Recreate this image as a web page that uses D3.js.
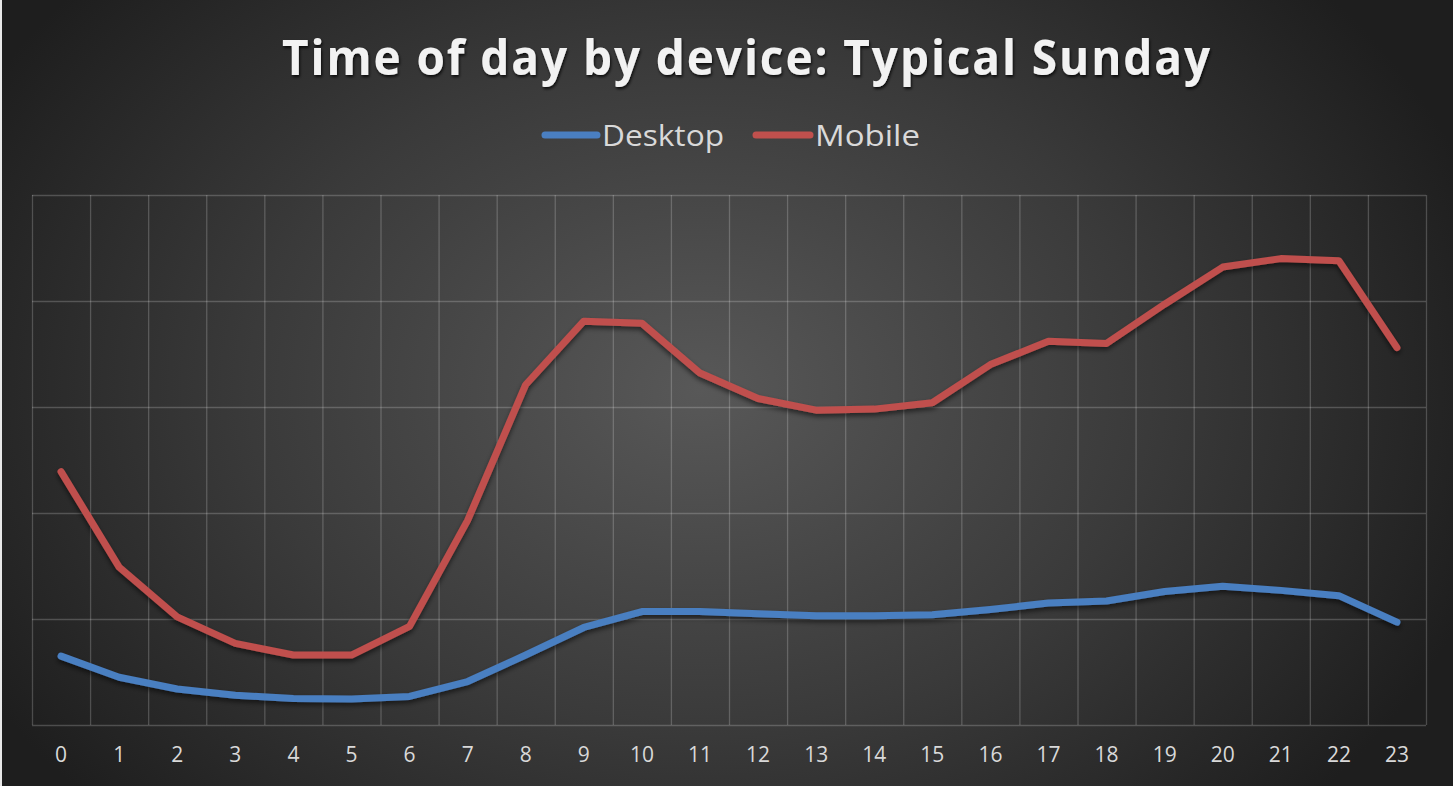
<!DOCTYPE html>
<html>
<head>
<meta charset="utf-8">
<script src="https://cdn.jsdelivr.net/npm/d3@7"></script>
<style>
html,body{margin:0;padding:0;background:#262626;overflow:hidden;}
svg{display:block;}
</style>
</head>
<body>
<svg id="chart" width="1453" height="786"></svg>
<script>
const hours = ["0","1","2","3","4","5","6","7","8","9","10","11","12","13","14","15","16","17","18","19","20","21","22","23"];
const desktop = [6.5,4.5,3.4,2.8,2.5,2.45,2.7,4.1,6.6,9.2,10.7,10.7,10.5,10.3,10.3,10.4,10.9,11.5,11.7,12.6,13.1,12.7,12.2,9.7];
const mobile = [23.9,14.9,10.2,7.7,6.6,6.6,9.3,19.3,32.1,38.1,37.9,33.2,30.8,29.7,29.8,30.4,34.0,36.2,36.0,39.7,43.2,44.0,43.8,35.6];
const yTicks = [0,10,20,30,40,50];
const seriesNames = ["Desktop","Mobile"];
const seriesColors = ["#4a7fc1","#c0504d"];

(function(){
const W = 1453, H = 786;
const svg = d3.select("#chart");
const defs = svg.append("defs");

const rg = defs.append("radialGradient").attr("id","bg")
  .attr("gradientUnits","userSpaceOnUse")
  .attr("cx",700).attr("cy",390).attr("r",820)
  .attr("gradientTransform","translate(700,390) scale(1,0.75) translate(-700,-390)");
rg.append("stop").attr("offset","0").attr("stop-color","#585858");
rg.append("stop").attr("offset","0.55").attr("stop-color","#3a3a3a");
rg.append("stop").attr("offset","1").attr("stop-color","#1e1e1e");

const sh = defs.append("filter").attr("id","lineShadow").attr("x","-10%").attr("y","-10%").attr("width","120%").attr("height","130%");
sh.append("feDropShadow").attr("dx",0).attr("dy",3).attr("stdDeviation",2.5).attr("flood-color","#000").attr("flood-opacity",0.55);

const tsh = defs.append("filter").attr("id","titleShadow").attr("x","-5%").attr("y","-20%").attr("width","110%").attr("height","150%");
tsh.append("feDropShadow").attr("dx",1).attr("dy",2).attr("stdDeviation",1.5).attr("flood-color","#000").attr("flood-opacity",0.8);

svg.append("rect").attr("width",W).attr("height",H).attr("fill","url(#bg)");
svg.append("rect").attr("x",0).attr("y",0).attr("width",2).attr("height",H).attr("fill","#e8e8e8");

const pL = 32, pR = 1426, pT = 195, pB = 725;

const xBand = d3.scaleBand().domain(hours).range([pL,pR]).padding(0);
const x = h => xBand(h) + xBand.bandwidth()/2;
const y = d3.scaleLinear().domain([0,50]).range([pB, pT]);

const grid = svg.append("g");
grid.selectAll("line.h").data(yTicks).join("line").attr("class","h")
  .attr("x1",pL).attr("x2",pR)
  .attr("y1",d=>y(d)+0.5).attr("y2",d=>y(d)+0.5)
  .attr("stroke","rgba(255,255,255,0.2)").attr("stroke-width",1.3);
const bounds = hours.map(h=>xBand(h)).concat([pR]);
grid.selectAll("line.v").data(bounds).join("line").attr("class","v")
  .attr("x1",d=>d+0.5).attr("x2",d=>d+0.5)
  .attr("y1",pT).attr("y2",pB)
  .attr("stroke","rgba(255,255,255,0.2)").attr("stroke-width",1.3);

const xAxis = d3.axisBottom(xBand).tickSize(0).tickPadding(0);
const gx = svg.append("g").attr("transform",`translate(0,${pB})`).call(xAxis);
gx.select(".domain").remove();
gx.selectAll("text")
  .attr("y",30).attr("dy","0.35em")
  .attr("fill","#d9d9d9")
  .style("font-family","'Open Sans', 'Noto Sans', sans-serif")
  .style("font-size","21px");

const line = d3.line().x((d,i)=>x(hours[i])).y(d=>y(d));
const allSeries = [desktop, mobile];
svg.append("g").selectAll("path").data(allSeries).join("path")
  .attr("d",line)
  .attr("fill","none")
  .attr("stroke",(d,i)=>seriesColors[i])
  .attr("stroke-width",7)
  .attr("stroke-linecap","round")
  .attr("stroke-linejoin","round")
  .attr("filter","url(#lineShadow)");

svg.append("text")
  .attr("x",747).attr("y",75)
  .attr("text-anchor","middle")
  .attr("fill","#f2f2f2")
  .attr("filter","url(#titleShadow)")
  .attr("textLength",930).attr("lengthAdjust","spacingAndGlyphs")
  .style("font-family","'Open Sans', 'Noto Sans', sans-serif")
  .style("font-weight","700")
  .style("font-size","48px")
  .style("letter-spacing","2px")
  .text("Time of day by device: Typical Sunday");

const legendItems = [
  {name: seriesNames[0], color: seriesColors[0], x1: 545, x2: 597, tx: 602, tl: 122},
  {name: seriesNames[1], color: seriesColors[1], x1: 756, x2: 810, tx: 815, tl: 105}
];
const lg = svg.append("g");
legendItems.forEach(it=>{
  lg.append("line").attr("x1",it.x1).attr("x2",it.x2).attr("y1",135).attr("y2",135)
    .attr("stroke",it.color).attr("stroke-width",7).attr("stroke-linecap","round");
  lg.append("text").attr("x",it.tx).attr("y",146)
    .attr("fill","#d9d9d9")
    .attr("textLength",it.tl).attr("lengthAdjust","spacingAndGlyphs")
    .style("font-family","'Open Sans', 'Noto Sans', sans-serif")
    .style("font-size","30px")
    .text(it.name);
});
})();
</script>
</body>
</html>
